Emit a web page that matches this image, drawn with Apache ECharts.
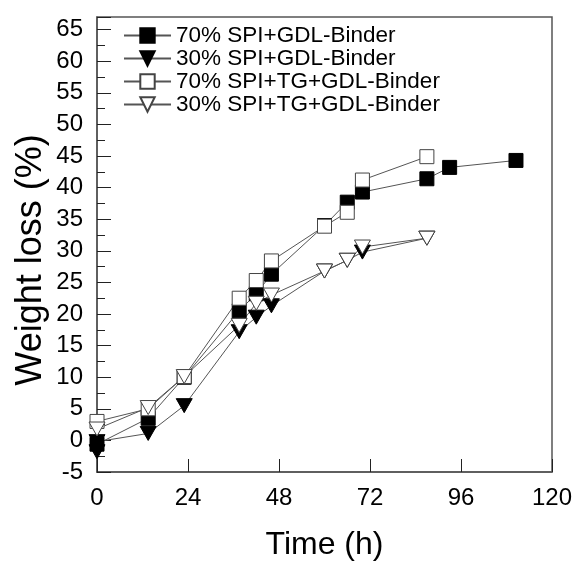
<!DOCTYPE html>
<html>
<head>
<meta charset="utf-8">
<script src="https://cdn.jsdelivr.net/npm/echarts@6/dist/echarts.min.js"></script>
<style>html,body{margin:0;padding:0;background:#fff}#c{width:578px;height:562px}</style>
</head>
<body>
<div id="c"></div>
<script>
const seriesNames = ['70% SPI+GDL-Binder', '30% SPI+GDL-Binder', '70% SPI+TG+GDL-Binder', '30% SPI+TG+GDL-Binder'];
const s70GDL = [[0,-0.6],[13.5,3.5],[23,10],[37.5,20.5],[42,23.2],[46,26.3],[60,34],[66,37.7],[70,39.3],[87,41.4],[93,43.2],[110.5,44.3]];
const s30GDL = [[0,-1.8],[0,-0.2],[13.5,1.1],[23,5.5],[37.5,17.2],[42,19.5],[46,21.3],[60,26.8],[66,28.5],[70,29.8],[87,32]];
const s70TG = [[0,3.0],[13.5,5],[23,10.1],[37.5,22.5],[42,25.3],[46,28.4],[60,33.9],[66,36.1],[70,41.2],[87,44.9]];
const s30TG = [[0,1.8],[13.5,5.2],[23,10.1],[37.5,18.2],[42,21.7],[46,23],[60,26.8],[66,28.5],[70,30.6],[87,32]];
const xTicks = {min:0, max:120, interval:24};
const yTicks = {min:-5, max:67, interval:5};
const xTitle = 'Time (h)';
const yTitle = 'Weight loss (%)';

const FONT = 'Liberation Sans, Arial, sans-serif';
const tri = 'path://M0,0L16,0L8,14Z';
function mk(name, data, symbol, filled, size) {
  return {
    name, type:'line', data, symbol, symbolSize:size, symbolKeepAspect:true,
    lineStyle:{color:'#555', width:1},
    itemStyle:{color: filled ? '#000' : '#fff', borderColor: filled ? '#000' : '#444', borderWidth: 1},
    emphasis:{disabled:true}, animation:false
  };
}
const chart = echarts.init(document.getElementById('c'));
chart.setOption({
  animation:false,
  backgroundColor:'#fff',
  grid:{left:97, right:26, top:17, bottom:90, outerBoundsMode:'none', containLabel:false, show:true, borderColor:'#555', borderWidth:1.5, backgroundColor:'transparent'},
  legend:{
    orient:'vertical', left:123, top:24, padding:0, itemWidth:47, itemHeight:18, itemGap:0,
    textStyle:{fontFamily:FONT, fontSize:22.5, color:'#000'},
    data: seriesNames
  },
  graphic:[
    {type:'text', x:31, y:260, rotation:Math.PI/2, silent:true,
     style:{text:yTitle, fontFamily:FONT, fontSize:36, fill:'#000', align:'center', verticalAlign:'middle'}}
  ],
  xAxis:{
    type:'value', min:xTicks.min, max:xTicks.max, interval:xTicks.interval,
    name:xTitle, nameLocation:'middle', nameGap:57,
    nameTextStyle:{fontFamily:FONT, fontSize:32, color:'#000'},
    axisLine:{onZero:false, lineStyle:{color:'#555', width:1.5}},
    axisTick:{inside:true, length:13, lineStyle:{color:'#222'}},
    axisLabel:{fontFamily:FONT, fontSize:24, color:'#000', margin:14},
    splitLine:{show:false}
  },
  yAxis:{
    type:'value', min:yTicks.min, max:yTicks.max, interval:yTicks.interval,
    axisLine:{lineStyle:{color:'#555', width:1.5}},
    axisTick:{inside:true, length:14, lineStyle:{color:'#222'}},
    minorTick:{show:true, splitNumber:2, length:8, lineStyle:{color:'#222'}},
    axisLabel:{fontFamily:FONT, fontSize:24, color:'#000', margin:14, showMaxLabel:false},
    splitLine:{show:false}
  },
  series:[
    mk(seriesNames[0], s70GDL, 'rect', true, 14),
    mk(seriesNames[1], s30GDL, tri, true, 16),
    mk(seriesNames[2], s70TG, 'rect', false, 14),
    mk(seriesNames[3], s30TG, tri, false, 16)
  ]
});
</script>
</body>
</html>
